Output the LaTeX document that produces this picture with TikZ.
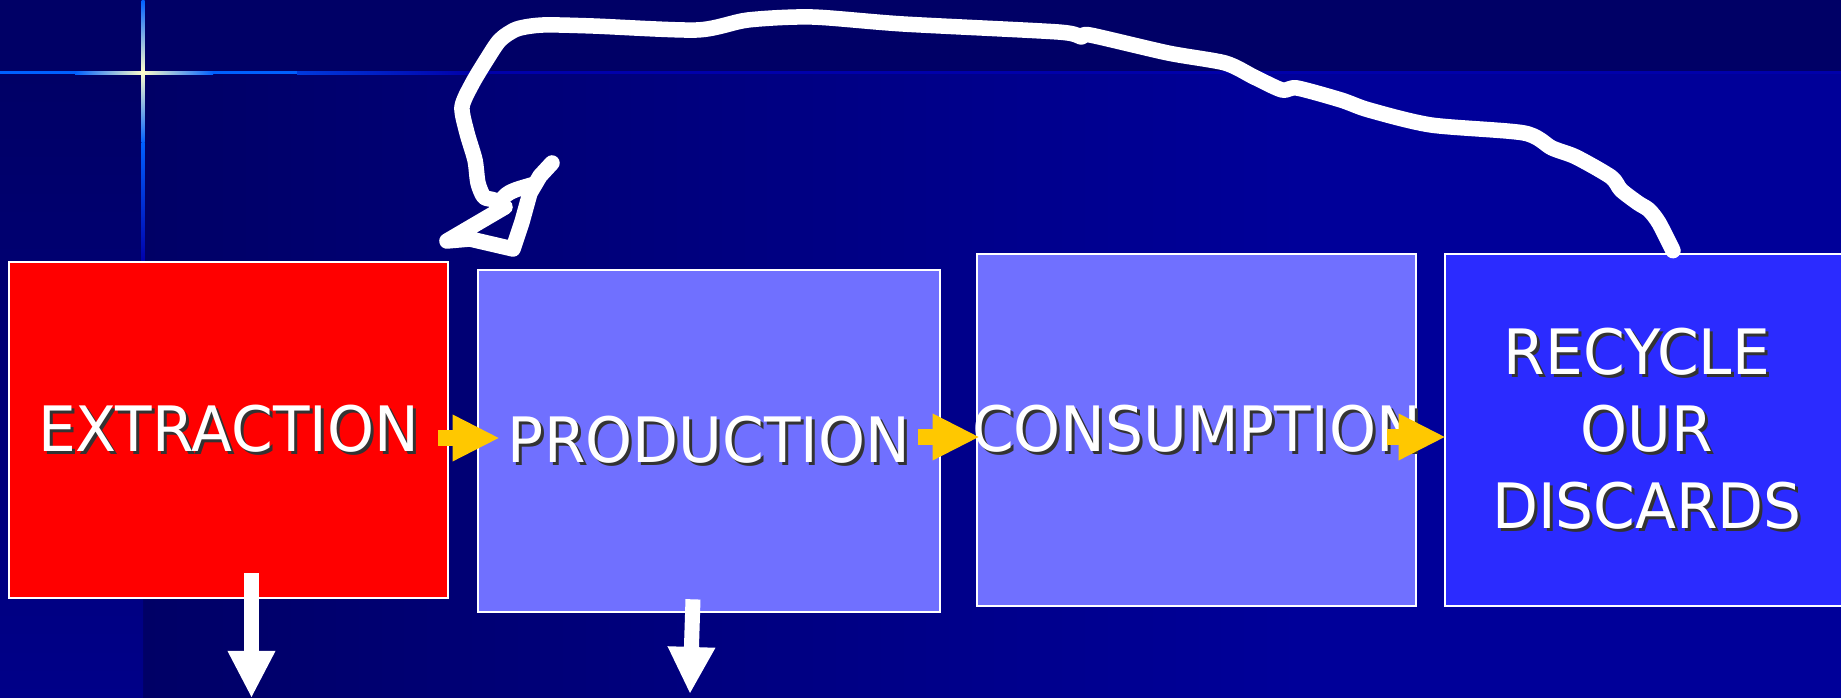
\documentclass[tikz,border=0pt]{standalone}
\usepackage{fontspec}
\setmainfont{DejaVu Sans}[FakeStretch=0.955]
\usepackage{tikz}
\usetikzlibrary{arrows.meta}
\usepackage{xcolor}

\definecolor{bgdark}{HTML}{000066}
\definecolor{bgmid}{HTML}{000099}
\definecolor{bgside}{HTML}{000088}
\definecolor{glowblue}{HTML}{0060FF}
\definecolor{glowcream}{HTML}{FFFFCC}
\definecolor{linedark}{HTML}{0000AA}
\definecolor{boxred}{HTML}{FF0000}
\definecolor{boxlilac}{HTML}{7070FF}
\definecolor{boxblue}{HTML}{2B2BFF}
\definecolor{flowyellow}{HTML}{FFC800}

\newcommand{\boxfont}{\fontsize{17.8pt}{21.9pt}\selectfont}
\newcommand{\shd}[1]{\makebox[0pt][l]{\hspace*{0.03cm}\raisebox{-0.03cm}{\textcolor{black!80}{#1}}}#1}

\begin{document}
\begin{tikzpicture}[
    x=0.01cm, y=-0.01cm,
    stage/.style = {rectangle, draw=white, line width=0.25mm, inner sep=0pt,
                    text=white, font=\boxfont, align=center},
    feed/.style = {draw=flowyellow, line width=1.6mm,
                   -{Triangle[length=4.6mm, width=4.7mm, line width=0pt]}},
    outflow/.style = {draw=white, line width=1.5mm,
                      -{Triangle[length=4.6mm, width=4.8mm, line width=0pt]}},
    scribble/.style = {draw=white, line width=1.55mm, line cap=round, line join=round}
  ]
  \useasboundingbox (0,0) rectangle (1841,698);
  \clip (0,0) rectangle (1841,698);

  % slide background: top band, left strip, blended main area
  \fill[bgdark] (0,0) rectangle (1841,698);
  \shade[left color=bgdark, right color=bgmid] (143,74) rectangle (1300,698);
  \fill[bgmid] (1300,74) rectangle (1841,698);
  \shade[top color=bgdark, bottom color=bgside] (0,74) rectangle (143,698);

  % glowing cross lines
  \fill[glowblue] (0,71.5) rectangle (75,74.5);
  \shade[left color=glowblue, right color=glowcream] (75,71.5) rectangle (143,74.5);
  \shade[left color=glowcream, right color=glowblue] (143,71.5) rectangle (213,74.5);
  \fill[glowblue] (213,71.5) rectangle (297,74.5);
  \shade[left color=glowblue!60!linedark, right color=linedark] (297,71.5) rectangle (470,74.5);
  \fill[linedark] (470,71.5) rectangle (1841,74.5);
  \shade[top color=glowblue, bottom color=glowcream] (141.5,0) rectangle (144.5,72);
  \shade[top color=glowcream, bottom color=glowblue] (141.5,72) rectangle (144.5,143);
  \shade[top color=glowblue, bottom color=linedark] (141.5,143) rectangle (144.5,262);

  % boxes at slide pixel positions
  \node[stage, fill=boxred, minimum width=4.39cm, minimum height=3.36cm]
    (extraction) at (228.5,430) {\shd{EXTRACTION}};
  \node[stage, fill=boxlilac, minimum width=4.62cm, minimum height=3.42cm]
    (production) at (709,441) {\shd{PRODUCTION}};
  \node[stage, fill=boxlilac, minimum width=4.39cm, minimum height=3.52cm]
    (consumption) at (1196.5,430) {\makebox[0pt]{\shd{CONSUMPTION}}};
  \node[stage, fill=boxblue, minimum width=4.04cm, minimum height=3.52cm]
    (recycle) at (1647,430) {\shd{RECYCLE}\hspace*{0.2cm}\\\shd{OUR}\\\shd{DISCARDS}};

  % yellow flow arrows
  \draw[feed] ([shift={(-11,8)}]extraction.east) -- ([shift={(22,-3)}]production.west);
  \draw[feed] ([shift={(-23,-4)}]production.east) -- ([shift={(3,7)}]consumption.west);
  \draw[feed] ([shift={(-30,7)}]consumption.east) -- ([shift={(1,7)}]recycle.west);

  % waste leaving the system
  \coordinate (extraction-out) at (251.5,697);
  \coordinate (production-out) at (690,693);
  \draw[outflow] ([shift={(23,-26)}]extraction.south) -- (extraction-out);
  \draw[outflow] ([shift={(-16,-14)}]production.south) -- (production-out);

  % hand drawn loop back from recycling
  \coordinate (loopend) at (447,241);
  \draw[scribble] plot[smooth, tension=0.45] coordinates {
      ([shift={(26,-2)}]recycle.north) (1659,223) (1649,210) (1638,203) (1621,190)
      (1611,177) (1576,157) (1552,148) (1524,133) (1431,125) (1369,110) (1341,100)
      (1297,88) (1282,90) (1254,77) (1225,63) (1168,53) (1090,35) (1081,37)
      (1058,32) (903,24) (812,17) (748,20) (697,30) (593,26) (543,25) (517,29)
      (500,40) (487,59) (472,84) (462,107) (467,133) (475,160) (478,183) (484,197)
      (494,200) (505,207)}
    -- (loopend) -- (470,239) -- (513,249) -- (522,222) -- (530,193)
    -- (540,176) -- (552,163);
  \draw[scribble] (497,206) .. controls (507,192) .. (535,184);
\end{tikzpicture}
\end{document}
